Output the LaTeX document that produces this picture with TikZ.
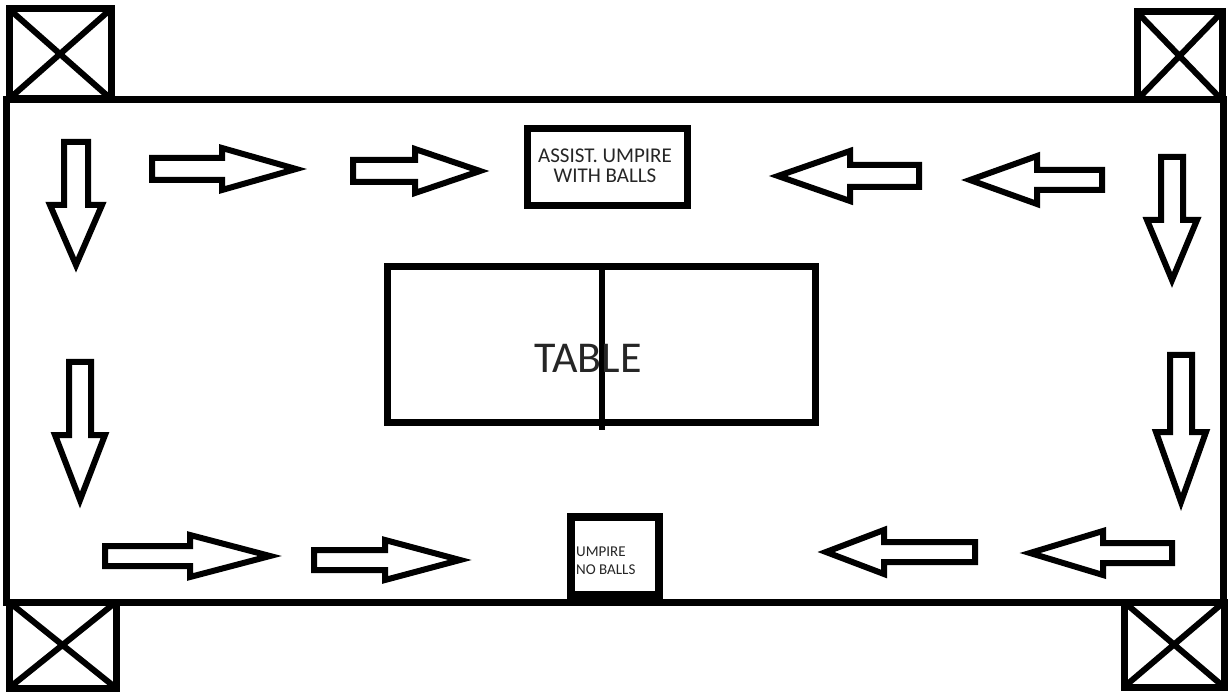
\documentclass[tikz,border=0pt]{standalone}
\usepackage{fontspec}
\setmainfont{Carlito}
\newcommand\varrowshape[6]{% x, tail, shoulder, tip, shaft half, head half
  \draw[blockarrow] ({#1-#5},#2) -- ({#1-#5},#3) -- ({#1-#6},#3) -- (#1,#4) -- ({#1+#6},#3) -- ({#1+#5},#3) -- ({#1+#5},#2) -- cycle;}
\newcommand\harrowshape[6]{% y, tail, shoulder, tip, shaft half, head half
  \draw[blockarrow] (#2,{#1-#5}) -- (#3,{#1-#5}) -- (#3,{#1-#6}) -- (#4,#1) -- (#3,{#1+#6}) -- (#3,{#1+#5}) -- (#2,{#1+#5}) -- cycle;}
\begin{document}
\begin{tikzpicture}[x=1pt,y=-1pt,
  thickbox/.style={draw=black,line width=7pt},
  blockarrow/.style={draw=black,line width=6pt,line join=miter,fill=white},
  labeltext/.style={text=black!85,inner sep=0pt}]
\useasboundingbox[fill=white] (0,0) rectangle (1231,692);
% hall outline
\draw[thickbox] (6,100) rectangle (1223,602);
% corner boxes
\foreach \a/\b/\c/\d in {9/9/111/99, 1137/12/1222/100, 9/602/116/688, 1124/602/1224/687}{
  \draw[thickbox] (\a,\b) rectangle (\c,\d);
  \draw[line width=6pt] (\a,\b) -- (\c,\d) (\a,\d) -- (\c,\b);
}
% table
\draw[thickbox] (387,267) rectangle (815,422);
\draw[line width=6pt] (602,267) -- (602,430);
\node[labeltext,font=\fontsize{44}{48}\selectfont] (table) at (588,358) {TABLE};
% assistant umpire
\draw[thickbox] (527,129) rectangle (687,206);
\node[labeltext,align=center,font=\fontsize{21}{20}\selectfont] (assist) at (605,166) {ASSIST. UMPIRE\\WITH BALLS};
% umpire
\draw[thickbox,line width=8pt] (571,517) rectangle (659,595);
\node[labeltext,align=left,anchor=west,font=\fontsize{15}{18}\selectfont] (umpire) at (576,561) {UMPIRE\\NO BALLS};
% down arrows
\varrowshape{76}{142}{205}{265}{12}{26}
\varrowshape{80}{362}{435}{500}{11}{25}
\varrowshape{1172}{157}{220}{280}{11}{25}
\varrowshape{1181}{355}{432}{502}{11}{25}
% right arrows
\harrowshape{169}{152}{222}{296}{11}{21}
\harrowshape{171}{353}{415}{480}{11}{22}
\harrowshape{556}{105}{190}{270}{10}{21}
\harrowshape{560}{314}{385}{460}{10}{20}
% left arrows
\harrowshape{176}{919}{850}{778}{11}{25}
\harrowshape{180}{1102}{1037}{970}{10}{24}
\harrowshape{552}{975}{884}{826}{10}{22}
\harrowshape{553}{1172}{1103}{1030}{10}{22}
\end{tikzpicture}
\end{document}
